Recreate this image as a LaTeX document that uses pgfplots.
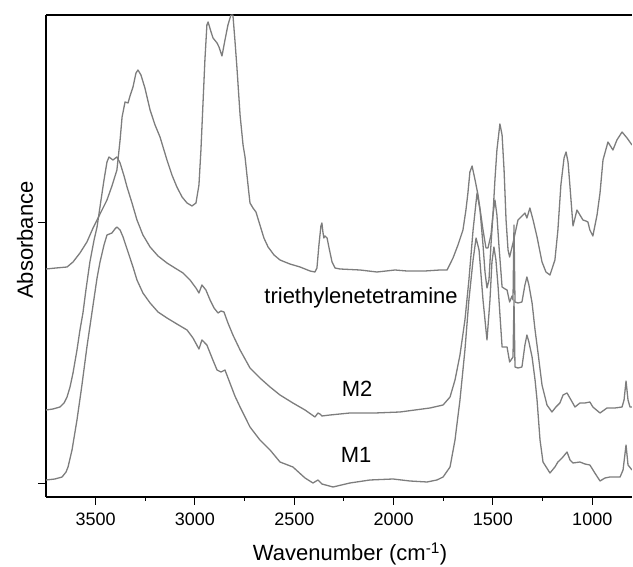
\documentclass[border=0pt]{standalone}
\usepackage{fontspec}
\setmainfont{Liberation Sans}
\usepackage{pgfplots}
\pgfplotsset{compat=1.18}
\definecolor{spec}{RGB}{125,125,125}
\tikzset{spectrum/.style={spec, line width=1.3pt, line join=round, mark=none}}

\begin{document}
\begin{tikzpicture}
\begin{axis}[
	name=ax,
	scale only axis,
	width=586pt, height=482pt,
	x dir=reverse,
	xmin=800, xmax=3750,
	ymin=-13, ymax=469,
	axis x line*=box, axis y line*=left,
	xtick={1000,1500,...,3500},
	minor x tick num=1,
	ytick={0,261},
	yticklabels={},
	tick align=outside,
	xtick pos=left, ytick pos=left,
	major tick length=8pt, minor tick length=4pt,
	every tick/.style={black, line width=1pt},
	axis line style={line width=1.3pt},
	ticklabel style={font=\fontsize{18}{20}\selectfont},
	xticklabel style={yshift=-4pt},
	/pgf/number format/assume math mode=true,
	/pgf/number format/set thousands separator={},
	xlabel={Wavenumber (cm\textsuperscript{-1})},
	xlabel style={at={(axis description cs:0.519,-0.132)}, anchor=base, font=\fontsize{22}{24}\selectfont},
	ylabel={Absorbance},
	ylabel style={at={(axis description cs:-0.0222,0.533)}, anchor=base, font=\fontsize{22}{24}\selectfont},
]

% triethylenetetramine
\addplot[spectrum] coordinates {
(3750,215) (3700,216) (3644,217) (3614,222) (3579,231) (3544,242) (3513,256) (3478,270)
(3443,284) (3418,298) (3393,314) (3377,344) (3367,367) (3352,382) (3337,381) (3327,388)
(3312,397) (3297,411) (3287,414) (3272,409) (3252,396) (3226,374) (3201,359) (3176,347)
(3141,324) (3116,309) (3091,297) (3065,287) (3040,281) (3015,278) (2995,281) (2980,299)
(2970,334) (2960,379) (2950,424) (2940,459) (2934,462) (2919,452) (2909,446) (2889,441)
(2879,437) (2864,428) (2849,444) (2834,459) (2819,469) (2809,469) (2799,444) (2789,417)
(2773,369) (2758,339) (2748,327) (2733,299) (2723,281) (2708,276) (2693,272) (2673,259)
(2653,246) (2632,237) (2602,229) (2572,224) (2522,220) (2471,217) (2421,213) (2396,212)
(2386,216) (2376,239) (2366,258) (2361,261) (2356,252) (2351,246) (2346,248) (2335,246)
(2325,236) (2310,222) (2295,216) (2270,215) (2169,214) (2084,212) (1993,214) (1933,213)
(1842,213) (1767,214) (1731,214) (1701,226) (1676,239) (1651,254) (1636,274) (1626,291)
(1616,312) (1605,318) (1590,304) (1575,289) (1550,254) (1535,236) (1525,236) (1510,249)
(1500,269) (1490,304) (1480,334) (1465,360) (1454,349) (1444,314) (1434,264) (1424,234)
(1416,227) (1399,241) (1374,264) (1349,269) (1339,271) (1329,266) (1314,276) (1298,264)
(1278,247) (1253,222) (1233,212) (1213,209) (1188,224) (1173,254) (1158,299) (1142,326)
(1132,332) (1122,322) (1112,297) (1097,258) (1077,274) (1047,264) (1032,263) (1022,262)
(1012,254) (997,248) (976,269) (961,291) (946,324) (921,342) (896,334) (876,344)
(850,352) (825,346) (800,339)
};

% M2
\addplot[spectrum] coordinates {
(3750,74) (3715,75) (3680,77) (3659,81) (3644,87) (3629,97) (3614,111) (3594,134)
(3579,154) (3564,171) (3549,194) (3529,222) (3508,244) (3493,257) (3473,284) (3458,304)
(3443,322) (3433,327) (3413,324) (3393,327) (3377,321) (3357,308) (3342,297) (3317,281)
(3292,264) (3262,249) (3226,237) (3186,228) (3141,221) (3101,216) (3060,211) (3025,204)
(2995,196) (2980,191) (2965,199) (2945,194) (2924,184) (2904,176) (2884,171) (2869,173)
(2854,172) (2834,161) (2809,149) (2773,134) (2723,116) (2673,106) (2622,97) (2572,89)
(2507,81) (2446,74) (2396,67) (2381,71) (2371,70) (2361,68) (2320,69) (2220,71)
(2094,71) (1968,72) (1817,76) (1751,79) (1716,87) (1691,104) (1666,129) (1641,164)
(1621,204) (1600,254) (1580,291) (1565,274) (1550,239) (1540,212) (1530,196) (1520,204)
(1510,239) (1500,269) (1490,284) (1480,269) (1470,239) (1454,197) (1439,195) (1429,194)
(1416,182) (1404,188) (1399,184) (1394,259) (1389,182) (1374,181) (1354,182) (1339,199)
(1329,207) (1319,199) (1303,181) (1288,154) (1273,131) (1253,99) (1228,79) (1203,72)
(1183,77) (1163,81) (1147,89) (1127,91) (1107,84) (1087,77) (1062,81) (1037,81)
(1012,82) (997,77) (961,71) (926,76) (886,76) (850,77) (840,84) (830,103)
(820,84) (810,77) (800,77)
};

% M1
\addplot[spectrum] coordinates {
(3750,4) (3705,5) (3669,7) (3649,12) (3639,17) (3619,34) (3594,64) (3569,99)
(3544,137) (3513,179) (3493,206) (3478,222) (3458,239) (3443,249) (3418,251) (3403,255)
(3393,257) (3377,254) (3362,247) (3337,232) (3312,217) (3292,204) (3262,191) (3226,181)
(3186,172) (3141,166) (3091,160) (3040,154) (3010,146) (2980,135) (2965,144) (2940,139)
(2914,126) (2889,114) (2869,112) (2849,114) (2824,101) (2799,88) (2773,77) (2723,57)
(2673,44) (2622,34) (2572,22) (2507,17) (2446,6) (2406,1) (2381,4) (2361,0)
(2305,-3) (2220,1) (2119,4) (2003,5) (1918,3) (1832,2) (1782,4) (1751,7)
(1716,17) (1691,44) (1666,84) (1641,134) (1621,184) (1600,224) (1585,246) (1570,234)
(1550,184) (1530,144) (1515,184) (1505,222) (1495,237) (1485,224) (1474,197) (1454,137)
(1429,137) (1416,122) (1399,127) (1394,184) (1389,117) (1374,116) (1354,117) (1339,139)
(1329,149) (1319,142) (1303,127) (1288,104) (1278,84) (1263,44) (1248,22) (1213,11)
(1188,17) (1173,22) (1152,26) (1127,32) (1112,24) (1097,21) (1062,22) (1037,20)
(1012,19) (987,11) (961,3) (936,6) (911,7) (860,7) (845,14) (830,39)
(820,19) (800,14)
};

\node[anchor=base, font=\fontsize{22}{24}\selectfont] at (axis cs:2164,180) {triethylenetetramine};
\node[anchor=base, font=\fontsize{22}{24}\selectfont] at (axis cs:2184,87) {M2};
\node[anchor=base, font=\fontsize{22}{24}\selectfont] at (axis cs:2189,21) {M1};
\end{axis}
\pgfresetboundingbox
\path[use as bounding box] ([xshift=-46pt,yshift=-70pt]ax.south west) rectangle ([xshift=1pt,yshift=15pt]ax.north east);
\end{tikzpicture}
\end{document}
